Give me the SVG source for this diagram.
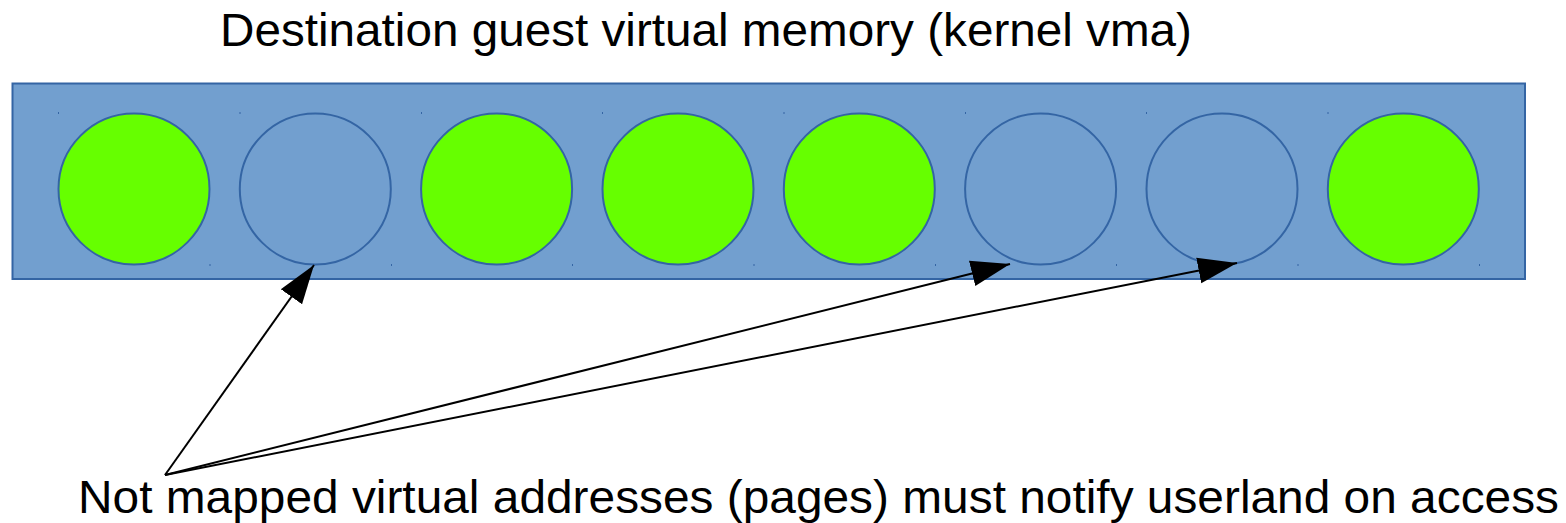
<svg xmlns="http://www.w3.org/2000/svg" width="1566" height="523" viewBox="0 0 1566 523">
  <style>
    .label { font-family: "Liberation Sans", Arial, sans-serif; font-size: 46.5px; fill: #000; }
    .vma { fill: #729fcf; stroke: #3465a4; stroke-width: 2; }
    .page { stroke: #3465a4; stroke-width: 2; }
    .mapped { fill: #66ff00; }
    .unmapped { fill: #729fcf; }
    .tick { fill: #3465a4; }
    .conn { stroke: #000; stroke-width: 2; fill: none; }
  </style>
  <defs>
    <marker id="arrow" markerUnits="userSpaceOnUse" markerWidth="40" markerHeight="28" refX="39" refY="13" orient="auto" viewBox="0 0 40 26">
      <path d="M0,0 L39,13 L0,26 Z" fill="#000"/>
    </marker>
  </defs>

  <rect width="1566" height="523" fill="#fff"/>

  <text class="label" x="220" y="46" textLength="972" lengthAdjust="spacingAndGlyphs">Destination guest virtual memory (kernel vma)</text>

  <g id="vma">
    <rect class="vma" x="12.5" y="83.5" width="1512.5" height="195.5"/>
  </g>

  <!-- pages: green = mapped, blue = not mapped -->
  <g id="page1"><circle class="page mapped" cx="134" cy="189" r="75.5"/><rect class="tick" x="58" y="112" width="1" height="2"/><rect class="tick" x="209.5" y="264" width="1" height="2"/></g>
  <g id="page2"><circle class="page unmapped" cx="315.3" cy="189" r="75.5"/><rect class="tick" x="239.5" y="112" width="1" height="2"/><rect class="tick" x="391" y="264" width="1" height="2"/></g>
  <g id="page3"><circle class="page mapped" cx="496.6" cy="189" r="75.5"/><rect class="tick" x="421" y="112" width="1" height="2"/><rect class="tick" x="572" y="264" width="1" height="2"/></g>
  <g id="page4"><circle class="page mapped" cx="678" cy="189" r="75.5"/><rect class="tick" x="602" y="112" width="1" height="2"/><rect class="tick" x="753.5" y="264" width="1" height="2"/></g>
  <g id="page5"><circle class="page mapped" cx="859.3" cy="189" r="75.5"/><rect class="tick" x="783.5" y="112" width="1" height="2"/><rect class="tick" x="935" y="264" width="1" height="2"/></g>
  <g id="page6"><circle class="page unmapped" cx="1040.6" cy="189" r="75.5"/><rect class="tick" x="965" y="112" width="1" height="2"/><rect class="tick" x="1116" y="264" width="1" height="2"/></g>
  <g id="page7"><circle class="page unmapped" cx="1222" cy="189" r="75.5"/><rect class="tick" x="1146" y="112" width="1" height="2"/><rect class="tick" x="1297.5" y="264" width="1" height="2"/></g>
  <g id="page8"><circle class="page mapped" cx="1403.3" cy="189" r="75.5"/><rect class="tick" x="1327.5" y="112" width="1" height="2"/><rect class="tick" x="1479" y="264" width="1" height="2"/></g>

  <g id="connectors">
    <line class="conn" x1="165" y1="475" x2="314" y2="265" marker-end="url(#arrow)"/>
    <line class="conn" x1="165" y1="475" x2="1010" y2="264" marker-end="url(#arrow)"/>
    <line class="conn" x1="165" y1="475" x2="1237" y2="263" marker-end="url(#arrow)"/>
  </g>

  <text class="label" x="78" y="513" textLength="1481" lengthAdjust="spacingAndGlyphs">Not mapped virtual addresses (pages) must notify userland on access</text>
</svg>
